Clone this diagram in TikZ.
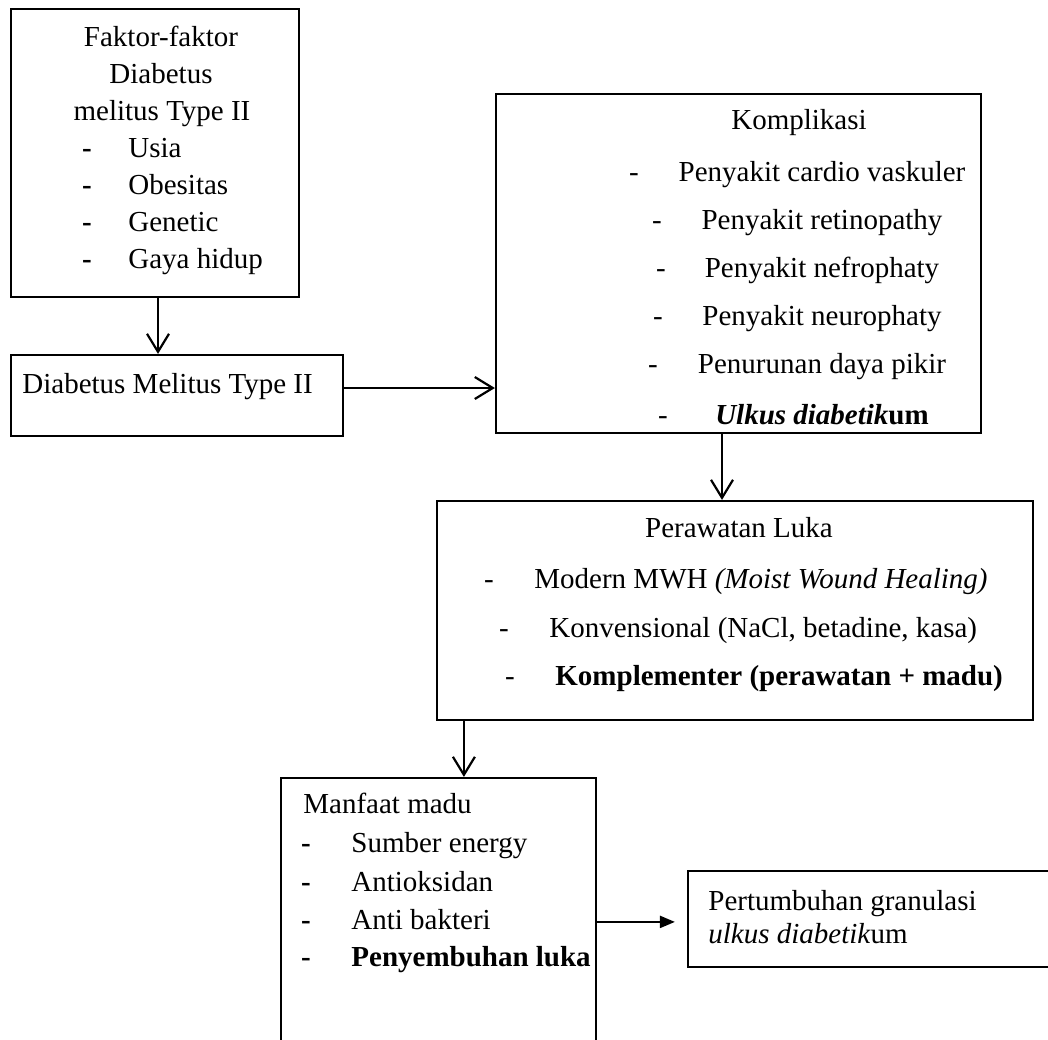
\documentclass[tikz,border=0pt]{standalone}
\usepackage{fontspec}
\setmainfont{Liberation Serif}
\usetikzlibrary{arrows.meta,fit}
\begin{document}
\begin{tikzpicture}[x=0.5pt,y=-0.5pt,
  box/.style={draw, line width=1.1pt, inner sep=0pt},
  txt/.style={inner sep=0pt, anchor=base west, font=\fontsize{14.5}{17}\selectfont},
  ctxt/.style={txt, anchor=base},
  arr/.style={line width=1.1pt, -{Straight Barb[length=9pt,width=11pt,line width=1.1pt]}},
  arrf/.style={line width=1.1pt, -{Triangle[length=7.5pt,width=6pt]}}
]
\useasboundingbox (0,0) rectangle (1048,1039);
\fill[white] (0,0) rectangle (1048,1039);
\clip (0,0) rectangle (1048,1039);

% boxes
\node[box, fit={(11,9) (299,297)}] (b1) {};
\node[box, fit={(11,355) (343,436)}] (b2) {};
\node[box, fit={(496,94) (981,433)}] (b3) {};
\node[box, fit={(437,501) (1033,720)}] (b4) {};
\node[box, fit={(281,778) (596,1080)}] (b5) {};
\node[box, fit={(688,871) (1100,967)}] (b6) {};

% box 1 text
\node[ctxt] (t1a) at (161,46) {Faktor-faktor};
\node[ctxt] (t1b) at (161,83) {Diabetus};
\node[ctxt] (t1c) at (162,120) {melitus Type II};
\node[ctxt] (d1a) at (87,157) {\textbf{-}};
\node[txt] (t1d) at (128,157) {Usia};
\node[ctxt] (d1b) at (87,194) {\textbf{-}};
\node[txt] (t1e) at (128,194) {Obesitas};
\node[ctxt] (d1c) at (87,231) {\textbf{-}};
\node[txt] (t1f) at (128,231) {Genetic};
\node[ctxt] (d1d) at (87,268) {\textbf{-}};
\node[txt] (t1g) at (128,268) {Gaya hidup};

% box 2 text
\node[txt] (t2) at (22,393) {Diabetus Melitus Type II};

% box 3 text
\node[ctxt] (t3a) at (799,129) {Komplikasi};
\node[ctxt] (d3a) at (634,181) {-};
\node[ctxt] (t3b) at (822,181) {Penyakit cardio vaskuler};
\node[ctxt] (d3b) at (657,229) {-};
\node[ctxt] (t3c) at (822,229) {Penyakit retinopathy};
\node[ctxt] (d3c) at (661,277) {-};
\node[ctxt] (t3d) at (822,277) {Penyakit nefrophaty};
\node[ctxt] (d3d) at (658,325) {-};
\node[ctxt] (t3e) at (822,325) {Penyakit neurophaty};
\node[ctxt] (d3e) at (653,373) {-};
\node[ctxt] (t3f) at (822,373) {Penurunan daya pikir};
\node[ctxt] (d3f) at (663,424) {-};
\node[ctxt] (t3g) at (822,424) {\textbf{\textit{Ulkus diabetik}um}};

% box 4 text
\node[ctxt] (t4a) at (739,537) {Perawatan Luka};
\node[ctxt] (d4a) at (489,588) {-};
\node[txt] (t4b) at (534,588) {Modern MWH \textit{(Moist Wound Healing)}};
\node[ctxt] (d4b) at (504,637) {-};
\node[txt] (t4c) at (549,637) {Konvensional (NaCl, betadine, kasa)};
\node[ctxt] (d4c) at (510,685) {-};
\node[txt] (t4d) at (555,685) {\textbf{Komplementer (perawatan + madu)}};

% box 5 text
\node[txt] (t5a) at (303,813) {Manfaat madu};
\node[ctxt] (d5a) at (306,852) {\textbf{-}};
\node[txt] (t5b) at (351,852) {Sumber energy};
\node[ctxt] (d5b) at (306,891) {\textbf{-}};
\node[txt] (t5c) at (351,891) {Antioksidan};
\node[ctxt] (d5c) at (306,929) {\textbf{-}};
\node[txt] (t5d) at (351,929) {Anti bakteri};
\node[ctxt] (d5d) at (306,966) {\textbf{-}};
\node[txt] (t5e) at (351,966) {\textbf{Penyembuhan luka}};

% box 6 text
\node[txt] (t6a) at (708,910) {Pertumbuhan granulasi};
\node[txt] (t6b) at (708,943) {\textit{ulkus diabetik}um};

% connectors
\coordinate (a1) at ([xshift=1.5pt]b1.south);
\draw[arr] (a1) -- (a1 |- b2.north);
\coordinate (a2) at ([yshift=3.75pt]b2.east);
\draw[arr] (a2) -- (a2 -| b3.west);
\coordinate (a3) at ([xshift=-8.25pt]b3.south);
\draw[arr] (a3) -- (a3 |- b4.north);
\coordinate (a4) at ([xshift=14pt]b4.south west);
\draw[arr] (a4) -- (a4 |- b5.north);
\coordinate (a5) at ([yshift=-72.5pt]b5.north east);
\coordinate (a5e) at ([xshift=-6pt]a5 -| b6.west);
\draw[arrf] (a5) -- (a5e);
\end{tikzpicture}
\end{document}
